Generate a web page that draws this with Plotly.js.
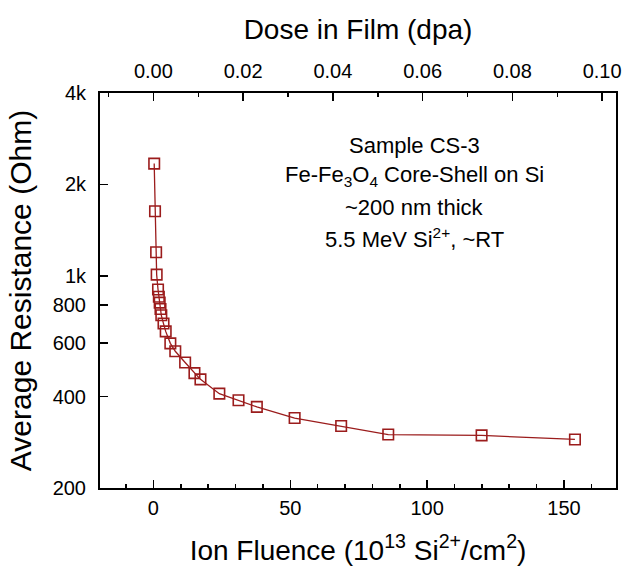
<!DOCTYPE html>
<html>
<head>
<meta charset="utf-8">
<script src="https://cdn.plot.ly/plotly-3.0.1.min.js"></script>
<style>html,body{margin:0;padding:0;background:#fff;}#chart{width:623px;height:570px;}</style>
</head>
<body>
<div id="chart"></div>
<script>
// Ion fluence (10^13 Si2+/cm2)
const fluence = [0.3, 0.6, 1.0, 1.2, 1.7, 2.0, 2.3, 2.6, 2.9, 3.7, 4.5, 6.2, 8.0, 11.6, 15.0, 17.2, 24.1, 31.1, 37.8, 51.6, 68.6, 85.8, 119.9, 154.0];
// Average resistance (Ohm)
const resistance = [2342, 1631, 1195, 1009, 901, 853, 816, 777, 741, 696, 656, 599, 564, 518, 478, 456, 409, 389, 370, 340, 320, 300, 298, 289];
// dose conversion (dpa per 10^13 ions/cm2)
const dosePerFluence = 6.1e-4;
const yTickVals = [200, 400, 600, 800, 1000, 2000, 4000];
const yTickText = ["200", "400", "600", "800", "1k", "2k", "4k"];
const xTickVals = [0, 50, 100, 150];
const xRange = [-19.5, 169];
const annoLines = ["Sample CS-3", "Fe-Fe<sub>3</sub>O<sub>4</sub> Core-Shell on Si", "~200 nm thick", "5.5 MeV Si<sup>2+</sup>, ~RT"];

const red = '#9b1c1c';
const font = 'Liberation Sans, Arial, sans-serif';
const H = 570, mT = 93, mB = 82, plotH = H - mT - mB;

const traces = [
  {
    x: fluence, y: resistance, type: 'scatter', mode: 'lines+markers',
    line: {color: red, width: 1.3},
    marker: {symbol: 'square-open', size: 10.5, color: red, line: {width: 1.6, color: red}},
    xaxis: 'x', yaxis: 'y', hoverinfo: 'skip', showlegend: false
  },
  {
    x: fluence.map(f => f * dosePerFluence), y: resistance, type: 'scatter', mode: 'markers',
    marker: {opacity: 0}, xaxis: 'x2', yaxis: 'y', hoverinfo: 'skip', showlegend: false
  }
];

const axisCommon = {
  showline: true, linecolor: '#000', linewidth: 2,
  ticks: 'inside', ticklen: 8, tickwidth: 1.5, tickcolor: '#000',
  showgrid: false, zeroline: false,
  tickfont: {family: font, size: 20, color: '#000'}
};

const annotations = annoLines.map((t, i) => ({
  xref: 'paper', yref: 'paper',
  x: (414 - 100) / 516, y: (H - mB - (145 + 31 * i)) / plotH,
  xanchor: 'center', yanchor: 'middle',
  text: t, showarrow: false, align: 'center',
  font: {family: font, size: 22, color: '#000'}
}));

const layout = {
  width: 623, height: H,
  margin: {l: 100, r: 7, t: mT, b: mB},
  paper_bgcolor: '#fff', plot_bgcolor: '#fff',
  showlegend: false,
  xaxis: Object.assign({}, axisCommon, {
    range: xRange, tickvals: xTickVals, ticktext: xTickVals.map(String),
    minor: {dtick: 10, tick0: 0, ticks: 'inside', ticklen: 4, tickwidth: 1.5, tickcolor: '#000'},
    ticklabelstandoff: 1,
    title: {text: 'Ion Fluence (10<sup>13</sup> Si<sup>2+</sup>/cm<sup>2</sup>)', font: {family: font, size: 28, color: '#000'}, standoff: 22}
  }),
  xaxis2: Object.assign({}, axisCommon, {
    overlaying: 'x', side: 'top', anchor: 'y',
    range: xRange.map(v => v * dosePerFluence),
    tick0: 0, dtick: 0.02, tickformat: '.2f',
    minor: {dtick: 0.01, tick0: 0, ticks: 'inside', ticklen: 4, tickwidth: 1.5, tickcolor: '#000'},
    ticklabelstandoff: 5,
    title: {text: 'Dose in Film (dpa)', font: {family: font, size: 28, color: '#000'}, standoff: 12}
  }),
  yaxis: Object.assign({}, axisCommon, {
    type: 'log', range: [Math.log10(200), Math.log10(4000)],
    tickvals: yTickVals, ticktext: yTickText,
    mirror: true,
    ticklabelstandoff: 8,
    title: {text: 'Average Resistance (Ohm)', font: {family: font, size: 30, color: '#000'}, standoff: 12}
  }),
  annotations: annotations
};

Plotly.newPlot('chart', traces, layout, {displayModeBar: false, staticPlot: true});
</script>
</body>
</html>
